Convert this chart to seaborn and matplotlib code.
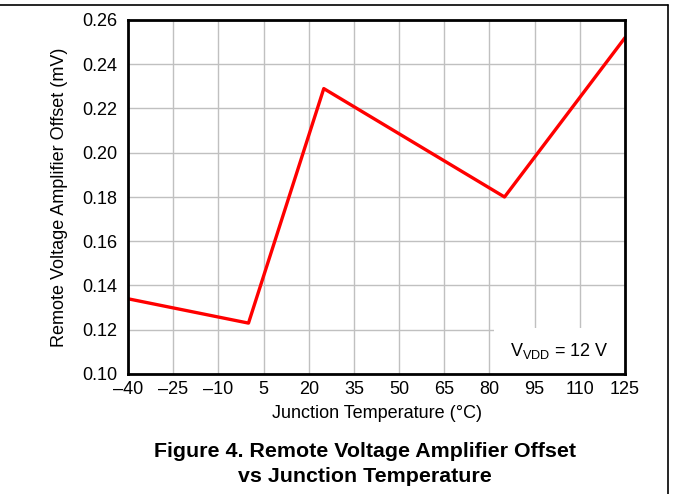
import matplotlib
matplotlib.use("Agg")
import matplotlib.pyplot as plt
import seaborn as sns
import pandas as pd
from matplotlib.lines import Line2D
from matplotlib.patches import Rectangle

# Data
temperature_c = [-40, 0, 25, 85, 125]
offset_mv = [0.134, 0.123, 0.229, 0.180, 0.252]
x_ticks = [-40, -25, -10, 5, 20, 35, 50, 65, 80, 95, 110, 125]
y_ticks = [0.10, 0.12, 0.14, 0.16, 0.18, 0.20, 0.22, 0.24, 0.26]

sns.set_theme(style="white")
plt.rcParams['font.family'] = ['Liberation Sans', 'DejaVu Sans']
plt.rcParams['mathtext.fontset'] = 'custom'
plt.rcParams['mathtext.rm'] = 'Liberation Sans'
plt.rcParams['mathtext.it'] = 'Liberation Sans:italic'
plt.rcParams['text.color'] = 'black'
plt.rcParams['axes.labelcolor'] = 'black'
plt.rcParams['xtick.color'] = 'black'
plt.rcParams['ytick.color'] = 'black'

df = pd.DataFrame({"T": temperature_c, "V": offset_mv})

fig = plt.figure(figsize=(6.73, 4.94), dpi=100)
ax = fig.add_axes([128/673, 1 - 374/494, (625-128)/673, (374-20)/494])

sns.lineplot(data=df, x="T", y="V", ax=ax, color="#ff0000", linewidth=2.4,
             zorder=5, clip_on=True)

ax.set_xlim(-40, 125)
ax.set_ylim(0.10, 0.26)
ax.set_xticks(x_ticks)
ax.set_yticks(y_ticks)
ax.set_xticklabels([str(t).replace('-', '\u2013') for t in x_ticks])
ax.set_yticklabels([f"{v:.2f}" for v in y_ticks])
ax.grid(True, color="#c0c0c0", linewidth=1.0)
ax.set_axisbelow(True)
for s in ax.spines.values():
    s.set_color("black")
    s.set_linewidth(2.0)
    s.set_zorder(6)
ax.tick_params(axis='both', length=0, labelsize=13, colors='black')
ax.tick_params(axis='y', pad=8)
ax.tick_params(axis='x', pad=5)

ax.set_xlabel("Junction Temperature (°C)", fontsize=13, labelpad=5, color='black')
ax.set_ylabel("Remote Voltage Amplifier Offset (mV)", fontsize=13, labelpad=10,
              color='black')

# white box behind annotation
ax.add_patch(Rectangle((81.6, 0.10), 125 - 81.6, 0.0208, facecolor='white',
                       edgecolor='none', zorder=2))
ax.text(103.3, 0.1104, r"V$_{\mathrm{VDD}}$ = 12 V", fontsize=13,
        ha='center', va='center', zorder=3, color='black')

fig.text(365/673, 1 - 451/494, "Figure 4. Remote Voltage Amplifier Offset",
         ha='center', va='center', fontsize=15.4, fontweight='bold', color='black')
fig.text(365/673, 1 - 476/494, "vs Junction Temperature",
         ha='center', va='center', fontsize=15.4, fontweight='bold', color='black')

# page border lines
fig.add_artist(Line2D([0, 668/673], [1 - 5/494, 1 - 5/494], color='black',
                      linewidth=1.2, transform=fig.transFigure))
fig.add_artist(Line2D([668/673, 668/673], [0, 1 - 5/494], color='black',
                      linewidth=1.2, transform=fig.transFigure))

fig.savefig("out.png", dpi=100, facecolor='white')
